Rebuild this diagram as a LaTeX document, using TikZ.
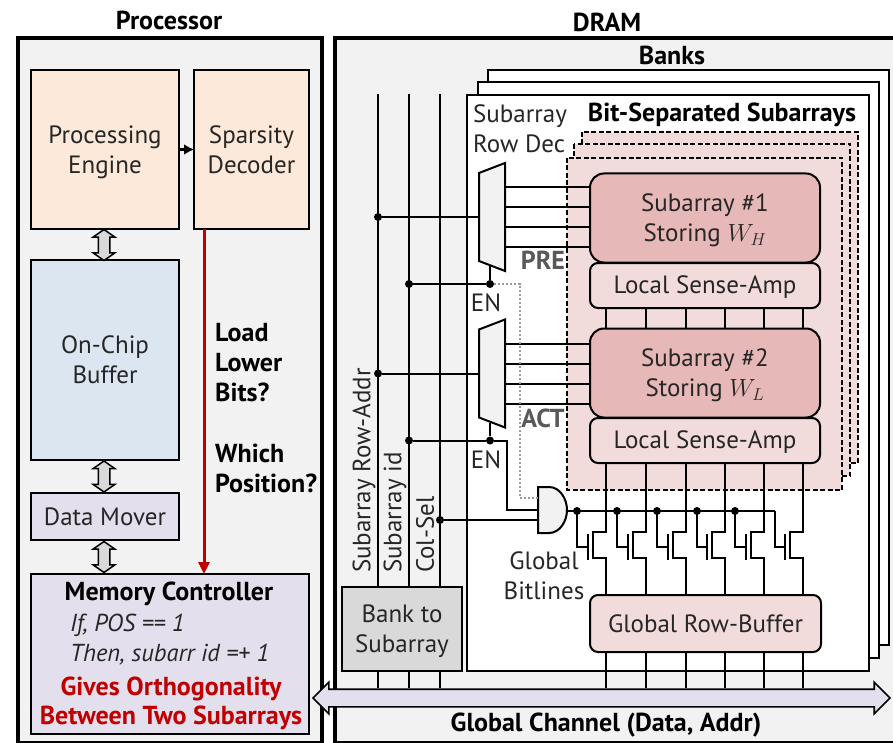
\documentclass[tikz,border=0pt]{standalone}
\usepackage{fontspec}
\setmainfont{PT Sans}
\usepackage{amsmath}
\usetikzlibrary{arrows.meta, shapes.arrows}
\definecolor{mText}{HTML}{262626}
\definecolor{mPanel}{HTML}{F2F2F2}
\definecolor{mOrange}{HTML}{FDE9D9}
\definecolor{mBlue}{HTML}{DCE6F1}
\definecolor{mPurple}{HTML}{E4DFEC}
\definecolor{mRose}{HTML}{F2DCDB}
\definecolor{mPink}{HTML}{E6B8B7}
\definecolor{mRed}{HTML}{C00000}
\begin{document}
\begin{tikzpicture}[
  x=1pt, y=-1pt,
  lbl/.style={font=\fontsize{25}{30}\selectfont, text=mText, align=center, inner sep=0},
  hdr/.style={font=\fontsize{26}{30}\selectfont\bfseries, text=black, align=center, inner sep=0},
  block/.style={lbl, draw=black, line width=2, outer sep=0},
  lowered/.style={execute at begin node={\rule{0pt}{#1pt}}},
  round/.style={block, rounded corners=#1},
  panel/.style={draw=black, line width=4, fill=mPanel},
  bank/.style={draw=black, line width=2, fill=white},
  stacked/.style={draw=black, line width=1.8, fill=mRose, dash pattern=on 5pt off 2.5pt},
  wire/.style={draw=black, line width=2},
  dotwire/.style={draw=black!40, line width=2, dash pattern=on 2pt off 2pt},
  gatebox/.style={draw=black, line width=2, fill=mPanel},
  dot/.style={circle, fill=black, inner sep=0, minimum size=8},
  link/.style={shape=double arrow, draw=black, line width=1.5, fill=black!15, rotate=90,
    inner xsep=0, inner ysep=5, minimum width=20, minimum height=31, double arrow head extend=5,
    double arrow tip angle=110},
]
  \path[use as bounding box, clip] (0,0) rectangle (893,743);

  \node[hdr] (proctitle) at (169,20) {Processor};
  \node[hdr] (dramtitle) at (607,22) {DRAM};
  \draw[panel] (18,38) rectangle (322,743);
  \draw[panel] (335,38) rectangle (900,743);

  % processor side
  \node[block, lowered=53, fill=mOrange, minimum width=148, minimum height=159] (engine) at (105,149.5) {Processing\\Engine};
  \node[block, fill=mOrange, minimum width=115, minimum height=159] (decoder) at (251.5,149.5) {Sparsity\\Decoder};
  \node[block, fill=mBlue, minimum width=148, minimum height=200] (buffer) at (105,360) {On-Chip\\Buffer};
  \node[block, fill=mPurple, minimum width=148, minimum height=47] (mover) at (105,516.5) {Data Mover};
  \node[block, fill=mPurple, minimum width=278, minimum height=160] (ctrl) at (170,654) {};
  \node[link] (linkA) at (104,245) {};
  \node[link] (linkB) at (104,476.5) {};
  \node[link] (linkC) at (104,557) {};
  \draw[line width=2.5, -{Latex[length=10pt,width=11pt]}] (engine) -- (decoder);
  \draw[draw=mRed, line width=3, -{Triangle[length=12pt,width=11pt]}]
    ([xshift=-47.5pt]decoder.south) -- ([xshift=-47.5pt]decoder.south |- ctrl.north);
  \node[hdr, align=left, anchor=north west] (question) at (215,323) {Load\\Lower\\Bits?\\[31pt]Which\\Position?};

  \node[hdr] (ctrltitle) at (169,594) {Memory Controller};
  \node[lbl, anchor=west, font=\fontsize{24.5}{30}\selectfont\itshape] (ctrlif) at (70,625) {If, POS == 1};
  \node[lbl, anchor=west, font=\fontsize{24.5}{30}\selectfont\itshape] (ctrlthen) at (70,655) {Then, subarr id =+ 1};
  \node[hdr, text=mRed] (ctrlgives) at (171,689) {Gives Orthogonality};
  \node[hdr, text=mRed] (ctrlbetween) at (171,718) {Between Two Subarrays};

  % dram side
  \draw[bank] (488,70) rectangle (889,645);
  \draw[bank] (478,82) rectangle (879,658);
  \draw[bank] (467,95) rectangle (869,671);
  \node[hdr] (banks) at (672,55) {Banks};
  \draw[stacked] (582,132) rectangle (858,463);
  \draw[stacked] (574,144) rectangle (850,476);
  \draw[stacked] (567,158) rectangle (842,490);
  \node[lbl, align=left, anchor=north west] (rowdec) at (473,105) {Subarray\\Row Dec};
  \node[hdr] (bitsep) at (722,115) {Bit-Separated Subarrays};

  \node[round=14, lowered=53, fill=mPink, minimum width=230, minimum height=89] (subA) at (705,218) {Subarray \#1\\Storing $W_H$};
  \node[round=8, lowered=21.5, fill=mRose, minimum width=230, minimum height=45] (senseA) at (705,285.5) {Local Sense-Amp};
  \node[round=14, lowered=53, fill=mPink, minimum width=230, minimum height=89] (subB) at (705,373) {Subarray \#2\\Storing $W_L$};
  \node[round=8, lowered=21.5, fill=mRose, minimum width=230, minimum height=45] (senseB) at (705,440.5) {Local Sense-Amp};
  \node[round=8, fill=mRose, minimum width=231, minimum height=57] (rowbuf) at (705.5,623.5) {Global Row-Buffer};
  \node[block, lowered=53, fill=black!15, minimum width=120, minimum height=84] (bts) at (402,629) {Bank to\\Subarray};
  \node[shape=double arrow, draw=black, line width=1.6, fill=mPurple, inner xsep=0, inner ysep=8, minimum width=30,
    minimum height=577, double arrow head extend=7, double arrow tip angle=90] (channel) at (601.5,698) {};
  \node[hdr] (chantitle) at (606,725) {Global Channel (Data, Addr)};

  % vertical bus
  \foreach \n/\xb in {Row/378, Id/409, Sel/440} {
    \coordinate (bus\n) at (\xb,94);
    \draw[wire] (bus\n) -- (bts.north -| bus\n);
    \draw[wire] (bts.south -| bus\n) -- (channel.north -| bus\n);
  }
  \node[lbl, rotate=90, anchor=west] (lblrow) at (364,573) {Subarray Row-Addr};
  \node[lbl, rotate=90, anchor=west] (lblid) at (395,573) {Subarray id};
  \node[lbl, rotate=90, anchor=west] (lblsel) at (425,573) {Col-Sel};

  % row decoders
  \foreach \n/\yc in {A/217, B/373.5} {
    \draw[gatebox] (479,\yc-44) -- (505,\yc-54) -- (505,\yc+54) -- (479,\yc+44) -- cycle;
    \coordinate (mux\n in) at (479,\yc);
    \coordinate (mux\n out) at (505,\yc);
    \coordinate (mux\n en) at (490,\yc+49);
    \node[dot] (rowdot\n) at (378,\yc) {};
    \node[dot] (iddot\n) at (409,\yc+67) {};
    \node[dot] (en\n) at (490,\yc+67) {};
    \draw[wire] (rowdot\n) -- (mux\n in);
    \draw[wire] (mux\n en) -- (en\n);
    \draw[wire] (iddot\n) -- (en\n);
    \foreach \dy in {-30,-10,10,30} {
      \draw[wire] (mux\n out) ++(0,\dy) coordinate (tap) -- (tap -| sub\n.west);
    }
    \node[lbl] (enlbl\n) at (486,\yc+86) {EN};
  }
  \node[hdr, text=black!65] (pre) at (543,260) {PRE};
  \node[hdr, text=black!65] (act) at (543,418) {ACT};

  % and gate
  \draw[gatebox] (538,487) -- (549,487) .. controls (560,487) and (567,499) .. (567,510)
    .. controls (567,521) and (560,533) .. (549,533) -- (538,533) -- cycle;
  \coordinate (andA) at (538,498);
  \coordinate (andB) at (538,510);
  \coordinate (andC) at (538,520);
  \coordinate (andout) at (567,511);
  \coordinate (bendA) at (520,498);
  \coordinate (bendB) at (507,510);
  \node[dot] (seldot) at (440,520) {};
  \draw[dotwire] (enA) -| (bendA) -- (andA);
  \draw[wire] (enB) -| (bendB) -- (andB);
  \draw[wire] (seldot) -- (andC);

  % bitlines
  \foreach \i/\xb/\xg in {1/606/577, 2/646/617, 3/686/657, 4/725/697, 5/764/735, 6/803/775} {
    \coordinate (bit\i) at (\xb,0);
    \coordinate (sel\i) at (\xg,511);
    \draw[wire] (senseA.south -| bit\i) -- (subB.north -| bit\i);
    \draw[wire] (senseB.south -| bit\i) -- (\xb,532) -- (\xb-13,532) -- (\xb-13,558) -- (\xb,558) -- (rowbuf.north -| bit\i);
    \draw[wire] (rowbuf.south -| bit\i) -- (channel.north -| bit\i);
    \draw[wire] (sel\i) -- (\xg,547) -- (\xb-18,547);
    \draw[wire] (\xb-18,534) -- (\xb-18,560);
  }
  \draw[wire] (andout) -- (sel6);
  \foreach \i in {1,...,5} {
    \node[dot] (seldot\i) at (sel\i) {};
  }
  \node[lbl] (bitlbl) at (544,576) {Global\\Bitlines};
\end{tikzpicture}
\end{document}
